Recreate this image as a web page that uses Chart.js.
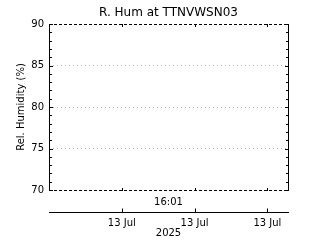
<!DOCTYPE html>
<html>
<head>
<meta charset="utf-8">
<script src="https://cdn.jsdelivr.net/npm/chart.js@4/dist/chart.umd.min.js"></script>
<style>
  html, body { margin: 0; padding: 0; background: #fff; }
  #wrap { width: 320px; height: 240px; }
</style>
</head>
<body>
<div id="wrap"><canvas id="c" width="320" height="240"></canvas></div>
<script>
// hours into 13 Jul 2025; no humidity readings in this window
const xTicks = [6, 12, 18];
const xTickLabels = ["13 Jul", "13 Jul", "13 Jul"];
const xRange = [0, 19.7];
const yRange = [70, 90];
const humTimes = [];
const humValues = [];
const lastTime = "16:01";
const yearLabel = "2025";

const FONT = "'DejaVu Sans', sans-serif";

const framePlugin = {
  id: "frame",
  afterDraw(chart) {
    const ctx = chart.ctx;
    const { left, right, top, bottom } = chart.chartArea;
    const x = chart.scales.x, y = chart.scales.y;
    ctx.save();
    ctx.strokeStyle = "#000";
    ctx.lineWidth = 1;

    // solid left/right axes
    ctx.beginPath();
    ctx.moveTo(left + 0.5, top); ctx.lineTo(left + 0.5, bottom + 1);
    ctx.moveTo(right + 0.5, top); ctx.lineTo(right + 0.5, bottom + 1);
    ctx.stroke();

    // dashed top/bottom
    ctx.setLineDash([3, 2]);
    ctx.beginPath();
    ctx.moveTo(left, top + 0.5); ctx.lineTo(right, top + 0.5);
    ctx.moveTo(left, bottom + 0.5); ctx.lineTo(right, bottom + 0.5);
    ctx.stroke();
    ctx.setLineDash([]);

    // y ticks pointing inward on both sides
    ctx.beginPath();
    for (let v = yRange[0]; v <= yRange[1]; v++) {
      const py = Math.round(y.getPixelForValue(v)) + 0.5;
      const len = v % 5 === 0 ? 4 : 3;
      ctx.moveTo(left, py); ctx.lineTo(left + len, py);
      ctx.moveTo(right + 1, py); ctx.lineTo(right + 1 - len, py);
    }
    // x ticks on frame and on the lower time axis
    const axisY = bottom + 22.5;
    ctx.moveTo(left, axisY); ctx.lineTo(right + 1, axisY);
    xTicks.forEach(v => {
      const px = Math.round(x.getPixelForValue(v)) + 0.5;
      ctx.moveTo(px, top); ctx.lineTo(px, top + 3);
      ctx.moveTo(px, bottom + 1); ctx.lineTo(px, bottom - 2);
      ctx.moveTo(px, axisY); ctx.lineTo(px, axisY - 4);
    });
    ctx.stroke();

    ctx.fillStyle = "#000";
    ctx.font = "10px " + FONT;
    ctx.textAlign = "center";
    ctx.textBaseline = "middle";
    ctx.fillText(lastTime, (left + right) / 2, bottom + 12);
    ctx.restore();
  }
};

new Chart(document.getElementById("c"), {
  type: "line",
  data: {
    datasets: [{
      data: humTimes.map((t, i) => ({ x: t, y: humValues[i] })),
      borderColor: "#000",
      borderWidth: 1,
      pointRadius: 0,
    }],
  },
  options: {
    responsive: false,
    devicePixelRatio: 1,
    animation: false,
    layout: { padding: { left: 0, right: 32, top: 0, bottom: 0 } },
    plugins: {
      legend: { display: false },
      tooltip: { enabled: false },
      title: {
        display: true,
        fullSize: false, // centre over the plot box, not the canvas
        text: "R. Hum at TTNVWSN03",
        color: "#000",
        font: { family: FONT, size: 12, weight: "normal" },
        padding: { top: 6, bottom: 3.6 },
      },
    },
    scales: {
      x: {
        type: "linear",
        position: "bottom",
        min: xRange[0],
        max: xRange[1],
        afterFit: s => { s.height = 50; },
        afterBuildTicks: s => { s.ticks = xTicks.map(v => ({ value: v })); },
        grid: { display: false, drawTicks: false },
        border: { display: false },
        ticks: {
          color: "#000",
          font: { family: FONT, size: 10 },
          padding: 27,
          maxRotation: 0,
          autoSkip: false,
          callback: (v, i) => xTickLabels[i],
        },
        title: {
          display: true,
          text: yearLabel,
          color: "#000",
          font: { family: FONT, size: 10 },
          padding: { top: 0, bottom: 1 },
        },
      },
      y: {
        min: yRange[0],
        max: yRange[1],
        afterFit: s => { s.width = 49; },
        grid: {
          drawTicks: false,
          color: c => (c.tick.value === yRange[0] || c.tick.value === yRange[1]) ? "rgba(0,0,0,0)" : "#b4b4b4",
        },
        border: { display: false, dash: [1, 3] },
        ticks: {
          stepSize: 5,
          color: "#000",
          font: { family: FONT, size: 10 },
          padding: 5,
        },
        title: {
          display: true,
          text: "Rel. Humidity (%)",
          color: "#000",
          font: { family: FONT, size: 10 },
          padding: { top: 15, bottom: 0 },
        },
      },
    },
  },
  plugins: [framePlugin],
});
</script>
</body>
</html>
